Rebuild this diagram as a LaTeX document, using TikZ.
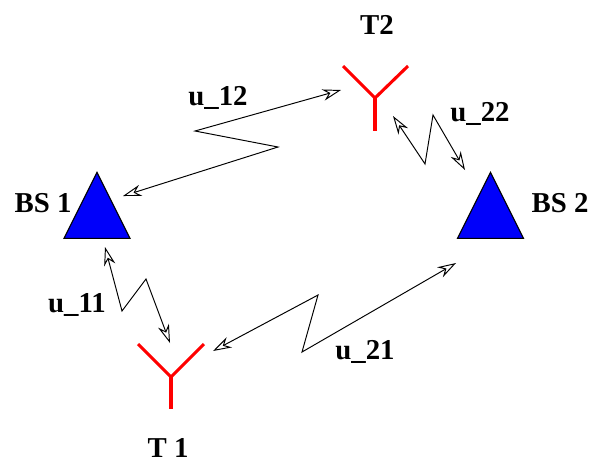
\documentclass[tikz,border=0pt]{standalone}
\usepackage{fontspec}
\setmainfont{Liberation Serif}
\usetikzlibrary{arrows.meta,shapes.geometric}
\definecolor{basefill}{RGB}{0,0,250}
\tikzset{
  basestation/.style={isosceles triangle,isosceles triangle stretches,shape border rotate=90,draw=black,fill=basefill,line width=0.6pt,minimum width=1.32cm,minimum height=1.32cm,inner sep=0pt,anchor=apex},
  antenna/.style={draw=red,line width=1.75pt},
  tag/.style={font=\fontsize{16.4}{18}\selectfont\bfseries,inner sep=0pt},
  link/.style={{Stealth[open,length=3.7mm,width=2.3mm,inset=1.2mm]}-{Stealth[open,length=3.7mm,width=2.3mm,inset=1.2mm]},line width=0.55pt,black}
}
\begin{document}
\begin{tikzpicture}[x=0.02cm,y=-0.02cm]
  \useasboundingbox (0,0) rectangle (590,461);
  \node[basestation] (bs1) at (97,171) {};
  \node[basestation] (bs2) at (490.5,171) {};
  \coordinate (t1) at (171,377);
  \coordinate (t2) at (375,98);
  % the two terminals
  \draw[antenna] (138,344) -- (t1) -- (204,344);
  \draw[antenna] (t1) -- (171,409);
  \draw[antenna] (343,66) -- (t2) -- (408,66);
  \draw[antenna] (t2) -- (375,131);
  \node[tag] (lbs1) at (43,203) {BS 1};
  \node[tag] (lbs2) at (560,203) {BS 2};
  \node[tag] (lt1) at (168,448) {T 1};
  \node[tag] (lt2) at (377,25) {T2};
  \node[tag] (lu12) at (218,98) {u\_12};
  \node[tag] (lu22) at (480,114) {u\_22};
  \node[tag] (lu11) at (77,305) {u\_11};
  \node[tag] (lu21) at (365,352) {u\_21};
  % radio links
  \coordinate (a1) at (123,196);
  \coordinate (a2) at (278,147);
  \coordinate (a3) at (195,131);
  \coordinate (a4) at (341,90);
  \coordinate (b1) at (393,116);
  \coordinate (b2) at (425,164);
  \coordinate (b3) at (433,115);
  \coordinate (b4) at (465,170);
  \coordinate (c1) at (105,247);
  \coordinate (c2) at (122,311);
  \coordinate (c3) at (146,279);
  \coordinate (c4) at (170,343);
  \coordinate (d1) at (213,351);
  \coordinate (d2) at (318,295);
  \coordinate (d3) at (302,352);
  \coordinate (d4) at (456,263);
  \draw[link] (a1) -- (a2) -- (a3) -- (a4);
  \draw[link] (b1) -- (b2) -- (b3) -- (b4);
  \draw[link] (c1) -- (c2) -- (c3) -- (c4);
  \draw[link] (d1) -- (d2) -- (d3) -- (d4);
\end{tikzpicture}
\end{document}
